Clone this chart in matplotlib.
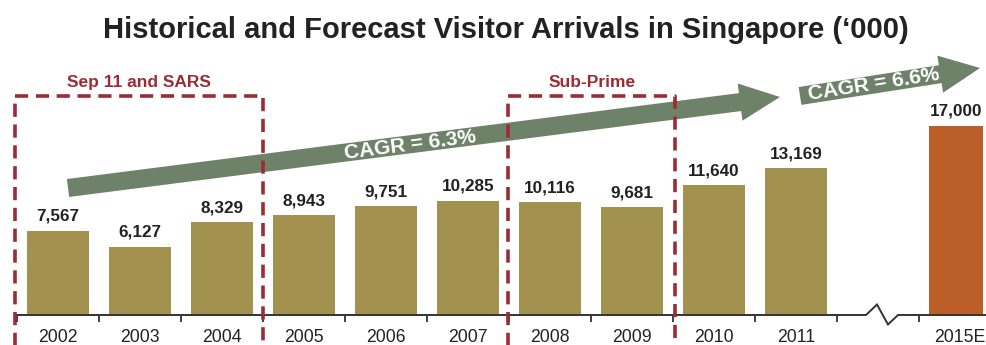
import matplotlib
matplotlib.use("Agg")
import matplotlib.pyplot as plt
from matplotlib.patches import FancyArrowPatch, ArrowStyle
from matplotlib.lines import Line2D

plt.rcParams['font.family'] = ['Liberation Sans', 'DejaVu Sans']
plt.rcParams['lines.scale_dashes'] = False

# ---- data ----
years = ["2002", "2003", "2004", "2005", "2006", "2007", "2008", "2009", "2010", "2011", "2015E"]
arrivals = [7567, 6127, 8329, 8943, 9751, 10285, 10116, 9681, 11640, 13169, 17000]
slots = [0, 1, 2, 3, 4, 5, 6, 7, 8, 9, 11]   # slot 10 is the axis break
forecast = [False] * 10 + [True]
events = ["Sep 11 and SARS", "Sub-Prime"]
event_spans = [(-0.52, 2.5), (5.49, 7.53)]
cagr_labels = ["CAGR = 6.3%", "CAGR = 6.6%"]

# ---- styles ----
OLIVE = "#A39150"
ORANGE = "#BC5E28"
GREEN = "#6D8269"
RED = "#9B2C35"
INK = "#222222"

W, H = 986, 345
fig = plt.figure(figsize=(W / 100, H / 100), dpi=100)
ax = fig.add_axes([17 / W, 30 / H, (W - 17) / W, 315 / H])
YMAX = 28300
ax.set_xlim(-0.5, -0.5 + (W - 17) / 82)
ax.set_ylim(0, YMAX)
px = YMAX / 315.0  # data units per pixel, vertically

for s in ax.spines.values():
    s.set_visible(False)

# bars start at a fixed offset inside each slot; the forecast bar is narrower
LEFT_OFF = 0.38
widths = [0.66 if f else 0.76 for f in forecast]
colors = [ORANGE if f else OLIVE for f in forecast]
lefts = [s - LEFT_OFF for s in slots]
ax.bar(lefts, arrivals, width=widths, align="edge", color=colors, zorder=2)
for l, w, v in zip(lefts, widths, arrivals):
    ax.text(l + w / 2, v + 10 * px, f"{v:,}", ha="center", va="baseline",
            fontsize=12.3, fontweight="bold", color=INK, zorder=6)

# axis line with break marker in slot 10
axis_x = [-0.5, 9.854, 9.988, 10.122, 10.244, 12]
axis_y = [0, 0, 10.5 * px, -9.5 * px, 0, 0]
ax.add_line(Line2D(axis_x, axis_y, color="#333333", lw=1.4, clip_on=False,
                   zorder=3, solid_joinstyle="miter"))

ax.set_xticks(slots)
ax.set_xticklabels(years)
ax.set_xticks([i - 0.5 for i in range(12)], minor=True)
ax.tick_params(axis="x", which="major", length=0, pad=10, labelsize=12.7,
               labelcolor=INK)
ax.tick_params(axis="x", which="minor", length=5, width=1.3, color="#333333",
               direction="out")
ax.set_yticks([])

# event boxes (open at the bottom)
box_top = 19700
for label, (x0, x1) in zip(events, event_spans):
    ax.add_line(Line2D([x0, x0, x1, x1], [-40 * px, box_top, box_top, -40 * px],
                       color=RED, lw=2.6, dashes=(9.5, 5.5), clip_on=False,
                       zorder=4))
    ax.text((x0 + x1) / 2, box_top + 13 * px, label, ha="center", va="center",
            fontsize=12.5, fontweight="bold", color=RED, zorder=6)

# growth arrows
arrow_specs = [((0.122, 11410), (8.805, 19587)), ((9.049, 19677), (11.244, 22192))]
label_pos = [(4.293, 15274, 7.3), (9.951, 20755, 8.8)]
style = ArrowStyle.Simple(head_length=29, head_width=27, tail_width=13)
for (a, b), (tx, ty, rot), lab in zip(arrow_specs, label_pos, cagr_labels):
    ax.add_patch(FancyArrowPatch(a, b, arrowstyle=style, mutation_scale=1,
                                 shrinkA=0, shrinkB=0, color=GREEN, lw=0,
                                 clip_on=False, zorder=3))
    ax.text(tx, ty, lab, ha="center", va="center", rotation=rot,
            rotation_mode="anchor", fontsize=15, fontweight="bold",
            color="white", zorder=5)

fig.text(506 / W, 1 - 30 / H,
         "Historical and Forecast Visitor Arrivals in Singapore (\u2018000)",
         ha="center", va="center", fontsize=21, fontweight="bold", color=INK)

fig.savefig("out.png", dpi=100)
